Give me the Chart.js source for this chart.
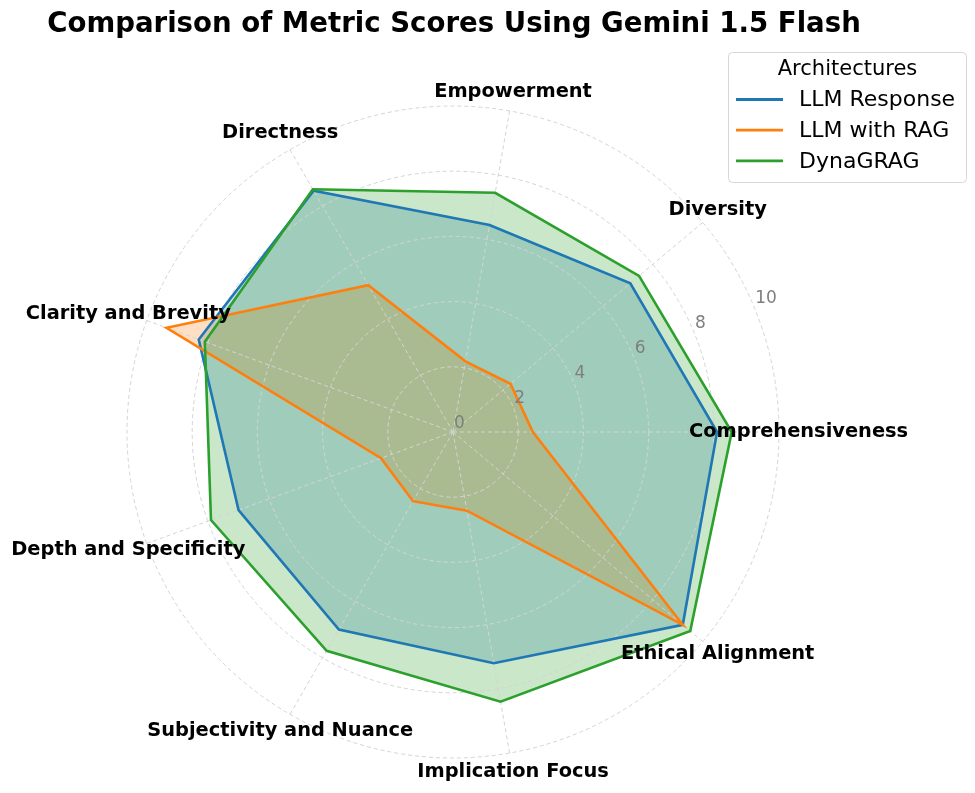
<!DOCTYPE html>
<html>
<head>
  <meta charset="UTF-8">
  <title>Comparison of Metric Scores Using Gemini 1.5 Flash</title>
  <script src="https://cdn.jsdelivr.net/npm/chart.js"></script>
  <style>
    body { margin: 0; background: #fff; }
  </style>
</head>
<body>
<canvas id="radarChart" width="975" height="793"></canvas>

<script>
  // categories go clockwise from the right (same as the reference going the other way)
  var categories = ['Comprehensiveness', 'Ethical Alignment', 'Implication Focus', 'Subjectivity and Nuance',
                    'Depth and Specificity', 'Clarity and Brevity', 'Directness', 'Empowerment', 'Diversity'];
  var llmResponse = [8.1, 9.2, 7.2, 7.0, 7.0, 8.3, 8.55, 6.45, 7.1];
  var llmWithRag  = [2.45, 9.2, 2.45, 2.45, 2.35, 9.35, 5.2, 2.2, 2.3];
  var dynaGrag    = [8.55, 9.5, 8.4, 7.75, 7.9, 8.1, 8.6, 7.45, 7.45];
  var tickValues  = [0, 2, 4, 6, 8, 10];

  var FONT = 'DejaVu Sans';

  // title, tick labels, category labels and legend drawn on top like matplotlib does
  var overlayPlugin = {
    id: 'overlay',
    afterDraw: function(chart) {
      var ctx = chart.ctx;
      var r = chart.scales.r;
      ctx.save();

      // radial tick labels at 22.5 degrees
      var a = 22.5 * Math.PI / 180;
      ctx.font = '17px ' + FONT;
      ctx.fillStyle = '#7f7f7f';
      ctx.textAlign = 'left';
      ctx.textBaseline = 'bottom';
      tickValues.forEach(function(v) {
        var d = r.getDistanceFromCenterForValue(v);
        ctx.fillText(String(v), r.xCenter + d * Math.cos(a) + 1, r.yCenter - d * Math.sin(a));
      });

      // category labels
      ctx.font = 'bold 19.4px ' + FONT;
      ctx.fillStyle = '#000';
      ctx.textAlign = 'center';
      ctx.textBaseline = 'middle';
      categories.forEach(function(c, i) {
        var p = r.getPointPosition(i, r.drawingArea * 1.06);
        ctx.fillText(c, p.x, p.y);
      });

      // title
      ctx.font = 'bold 27.6px ' + FONT;
      ctx.textBaseline = 'alphabetic';
      ctx.fillText('Comparison of Metric Scores Using Gemini 1.5 Flash', 454, 32);

      // legend
      var x0 = 728.5, y0 = 52.5, w = 238, h = 130;
      ctx.beginPath();
      ctx.roundRect(x0, y0, w, h, 4);
      ctx.fillStyle = 'rgba(255,255,255,0.8)';
      ctx.fill();
      ctx.strokeStyle = '#d6d6d6';
      ctx.lineWidth = 1;
      ctx.stroke();

      ctx.fillStyle = '#000';
      ctx.font = '21px ' + FONT;
      ctx.textAlign = 'center';
      ctx.textBaseline = 'middle';
      ctx.fillText('Architectures', x0 + w / 2, 70);

      ctx.font = '22px ' + FONT;
      ctx.textAlign = 'left';
      chart.data.datasets.forEach(function(ds, i) {
        var y = 99.5 + i * 30.7;
        ctx.strokeStyle = ds.borderColor;
        ctx.lineWidth = 2.8;
        ctx.beginPath();
        ctx.moveTo(736, y);
        ctx.lineTo(783, y);
        ctx.stroke();
        ctx.fillStyle = '#000';
        ctx.fillText(ds.label, 799, y + 1);
      });

      ctx.restore();
    }
  };

  var ctx = document.getElementById('radarChart').getContext('2d');

  var radarChart = new Chart(ctx, {
    type: 'radar',
    data: {
      labels: categories,
      datasets: [{
        label: 'LLM Response',
        data: llmResponse,
        borderColor: '#1f77b4',
        backgroundColor: 'rgba(31, 119, 180, 0.25)',
        order: 2
      }, {
        label: 'LLM with RAG',
        data: llmWithRag,
        borderColor: '#ff7f0e',
        backgroundColor: 'rgba(255, 127, 14, 0.25)',
        order: 1
      }, {
        label: 'DynaGRAG',
        data: dynaGrag,
        borderColor: '#2ca02c',
        backgroundColor: 'rgba(44, 160, 44, 0.25)',
        order: 0
      }]
    },
    options: {
      responsive: false,
      animation: false,
      layout: {
        padding: { left: 127, right: 195, top: 106, bottom: 34 }
      },
      elements: {
        line: { borderWidth: 2.6, tension: 0, fill: true },
        point: { radius: 0, hoverRadius: 0 }
      },
      plugins: {
        legend: { display: false },
        tooltip: { enabled: false },
        // fills under the grid, lines above it
        filler: { drawTime: 'beforeDraw' }
      },
      scales: {
        r: {
          min: 0,
          max: 10,
          startAngle: 90,
          ticks: { display: false, stepSize: 2 },
          pointLabels: { display: false },
          grid: { circular: true, color: '#d3d3d3', lineWidth: 1 },
          border: { dash: [4, 3] },
          angleLines: { color: '#d3d3d3', lineWidth: 1, borderDash: [4, 3] }
        }
      }
    },
    plugins: [overlayPlugin]
  });
</script>
</body>
</html>
